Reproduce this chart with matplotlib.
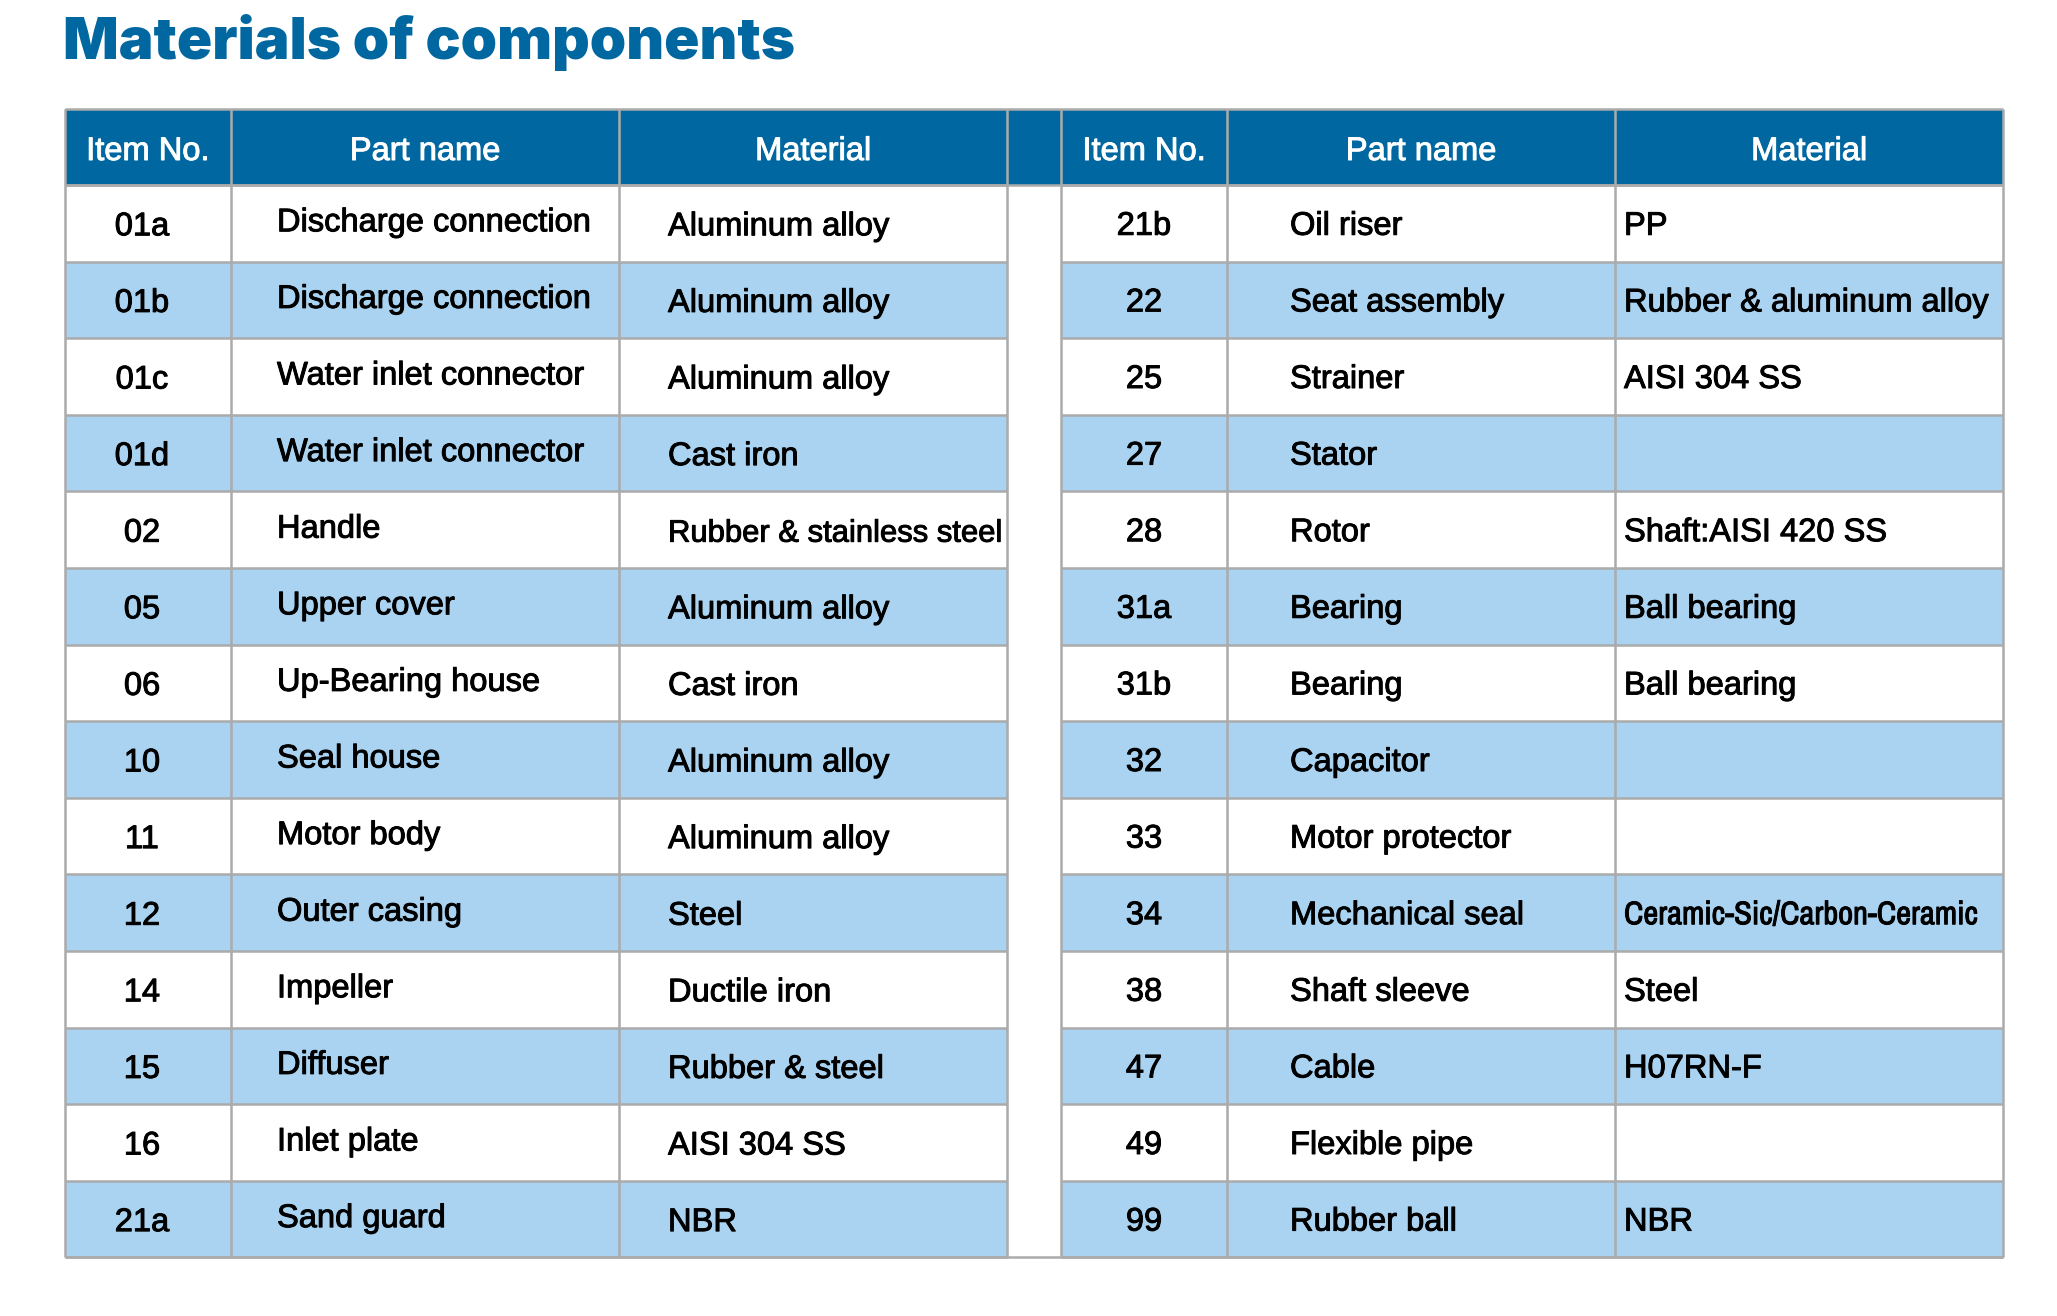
import matplotlib
matplotlib.use("Agg")
import matplotlib.pyplot as plt
from matplotlib.patches import Rectangle
from matplotlib import patheffects as pe
from matplotlib import font_manager as fm

# ---------------- data ----------------
title = "Materials of components"
headers = ["Item No.", "Part name", "Material"]

left_items = ["01a", "01b", "01c", "01d", "02", "05", "06", "10", "11", "12",
              "14", "15", "16", "21a"]
left_parts = ["Discharge connection", "Discharge connection", "Water inlet connector",
              "Water inlet connector", "Handle", "Upper cover", "Up-Bearing house",
              "Seal house", "Motor body", "Outer casing", "Impeller", "Diffuser",
              "Inlet plate", "Sand guard"]
left_materials = ["Aluminum alloy", "Aluminum alloy", "Aluminum alloy", "Cast iron",
                  "Rubber & stainless steel", "Aluminum alloy", "Cast iron",
                  "Aluminum alloy", "Aluminum alloy", "Steel", "Ductile iron",
                  "Rubber & steel", "AISI 304 SS", "NBR"]

right_items = ["21b", "22", "25", "27", "28", "31a", "31b", "32", "33", "34",
               "38", "47", "49", "99"]
right_parts = ["Oil riser", "Seat assembly", "Strainer", "Stator", "Rotor", "Bearing",
               "Bearing", "Capacitor", "Motor protector", "Mechanical seal",
               "Shaft sleeve", "Cable", "Flexible pipe", "Rubber ball"]
right_materials = ["PP", "Rubber & aluminum alloy", "AISI 304 SS", "", "Shaft:AISI 420 SS",
                   "Ball bearing", "Ball bearing", "", "", "Ceramic-Sic/Carbon-Ceramic",
                   "Steel", "H07RN-F", "", "NBR"]

# ---------------- style / layout ----------------
W, H = 2057, 1316
HEADER_BLUE = "#0067A1"
ROW_BLUE = "#A9D3F1"
GRID = "#ABABAB"
TITLE_COLOR = "#0067A1"
FONT = ["Liberation Sans", "DejaVu Sans"]
installed = {f.name for f in fm.fontManager.ttflist}
NARROW = None
for cand in ("Liberation Sans Narrow", "Arial Narrow", "Archivo Narrow", "Roboto Condensed"):
    if cand in installed:
        NARROW = [cand, "DejaVu Sans"]
        break
TITLE_FONT = ["Inter", "Liberation Sans", "DejaVu Sans"]
FS = 23.5
LW = 1.8

left_edges = [64.5, 231, 619, 1007]
right_edges = [1061, 1227, 1615, 2003]
top = 109
header_h = 76
row_h = 76.6

fig = plt.figure(figsize=(W / 100, H / 100), dpi=100)
ax = fig.add_axes([0, 0, 1, 1])
ax.set_xlim(0, W)
ax.set_ylim(H, 0)
ax.axis("off")

n_rows = len(left_items)
body_top = top + header_h
bottom = body_top + n_rows * row_h

# title
ax.text(63, 59, title, fontsize=42, fontweight="black", color=TITLE_COLOR,
        family=TITLE_FONT, ha="left", va="baseline")

# header background (spans both tables and the gap)
ax.add_patch(Rectangle((left_edges[0], top), right_edges[-1] - left_edges[0], header_h,
                       facecolor=HEADER_BLUE, edgecolor="none", zorder=1))

# body row shading
for edges in (left_edges, right_edges):
    for i in range(n_rows):
        if i % 2 == 1:
            ax.add_patch(Rectangle((edges[0], body_top + i * row_h), edges[-1] - edges[0],
                                   row_h, facecolor=ROW_BLUE, edgecolor="none", zorder=1))

# grid lines
for edges in (left_edges, right_edges):
    for i in range(n_rows + 1):
        y = body_top + i * row_h
        ax.plot([edges[0], edges[-1]], [y, y], color=GRID, lw=LW, zorder=2,
                solid_capstyle="butt")
for y in (top, body_top, bottom):
    ax.plot([left_edges[0], right_edges[-1]], [y, y], color=GRID, lw=LW, zorder=2,
            solid_capstyle="butt")
for x in left_edges + right_edges:
    ax.plot([x, x], [top, bottom], color=GRID, lw=LW, zorder=2, solid_capstyle="butt")

renderer = fig.canvas.get_renderer()


def put(x, y, s, ha, color="black", maxw=None):
    if not s:
        return
    t = ax.text(x, y, s, fontsize=FS, color=color, family=FONT, ha=ha, va="baseline",
                zorder=3,
                path_effects=[pe.withStroke(linewidth=0.7, foreground=color)])
    if maxw is not None:
        w = t.get_window_extent(renderer).width
        if w > maxw:
            if w > maxw * 1.06 and NARROW is not None:
                t.set_family(NARROW)
                w2 = t.get_window_extent(renderer).width
                if w2 > maxw:
                    t.set_fontsize(FS * maxw / w2)
            else:
                t.set_fontsize(FS * maxw / w)


# headers
for edges in (left_edges, right_edges):
    for j, h in enumerate(headers):
        cx = (edges[j] + edges[j + 1]) / 2
        put(cx, top + header_h / 2 + 13, h, "center", color="white")

# left table body
for i in range(n_rows):
    cy = body_top + i * row_h + row_h / 2
    put(142, cy + 12, left_items[i], "center")
    put(277, cy + 8, left_parts[i], "left", maxw=left_edges[2] - 277 - 4)
    put(668, cy + 12, left_materials[i], "left", maxw=left_edges[3] - 668 - 5)

# right table body
for i in range(n_rows):
    cy = body_top + i * row_h + row_h / 2
    put((right_edges[0] + right_edges[1]) / 2, cy + 11.5, right_items[i], "center")
    put(1290, cy + 11.5, right_parts[i], "left", maxw=right_edges[2] - 1290 - 4)
    put(1624, cy + 11.5, right_materials[i], "left", maxw=right_edges[3] - 1624 - 4)

fig.savefig("out.png", dpi=100, facecolor="white")
